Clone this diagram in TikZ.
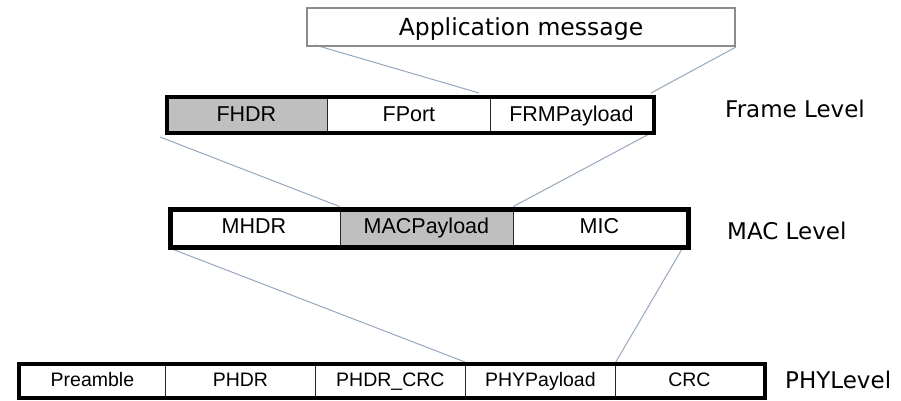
\documentclass[tikz,border=0pt]{standalone}
\usepackage{fontspec}
\setmainfont{Liberation Sans}
\newfontfamily\vfont{DejaVu Sans}
\usetikzlibrary{backgrounds,calc}
\definecolor{cellgray}{RGB}{191,191,191}
\definecolor{conn}{RGB}{150,168,190}
\definecolor{appborder}{RGB}{140,140,140}
\tikzset{
  cell/.style={draw=black!85, line width=0.8pt, inner sep=0pt, anchor=north west, text height=16pt, text depth=0pt},
  frcell/.style={cell, minimum height=36pt, font=\fontsize{21.5}{24}\selectfont},
  maccell/.style={cell, minimum height=38pt, font=\fontsize{21.5}{24}\selectfont},
  phycell/.style={cell, minimum height=34pt, minimum width=150pt, font=\fontsize{19.5}{22}\selectfont, text height=14pt},
  outerbox/.style={draw=black, inner sep=0pt, anchor=north west, fill=none},
  lvl/.style={anchor=west, inner sep=0pt, font=\vfont\fontsize{23}{26}\selectfont},
  conline/.style={draw=conn, line width=1pt},
}
\begin{document}
\begin{tikzpicture}[x=1pt,y=-1pt]
\useasboundingbox (0,0) rectangle (901,401);

% application message
\node[draw=appborder, line width=2pt, anchor=north west, minimum width=428pt, minimum height=38pt, inner sep=0pt,
      font=\vfont\fontsize{23.5}{26}\selectfont, text height=17pt, text depth=0pt] (app) at (306,7) {Application message};

% frame level
\node[frcell, fill=cellgray, minimum width=162pt] (fhdr) at (165,95) {FHDR};
\node[frcell, fill=white, minimum width=163pt] (fport) at (327,95) {FPort};
\node[frcell, fill=white, minimum width=162pt] (frm) at (490,95) {FRMPayload};
\node[outerbox, line width=4pt, minimum width=487pt, minimum height=36pt] (framebox) at (165,95) {};
\node[lvl] (flvl) at (725,108.5) {Frame Level};

% MAC level
\node[maccell, fill=white, minimum width=172pt] (mhdr) at (167.5,206.5) {MHDR};
\node[maccell, fill=cellgray, minimum width=173pt] (macpl) at (339.5,206.5) {MACPayload};
\node[maccell, fill=white, minimum width=173pt] (mic) at (512.5,206.5) {MIC};
\node[outerbox, line width=5pt, minimum width=518pt, minimum height=38pt] (macbox) at (167.5,206.5) {};
\node[lvl] (mlvl) at (727,230.5) {MAC Level};

% PHY level
\node[phycell, fill=white] (pre) at (17,362) {Preamble};
\node[phycell, fill=white] (phdr) at (165,362) {PHDR};
\node[phycell, fill=white] (phdrcrc) at (315,362) {PHDR\_CRC};
\node[phycell, fill=white] (phypl) at (465,362) {PHYPayload};
\node[phycell, fill=white, minimum width=148pt] (crc) at (615,362) {CRC};
\node[outerbox, line width=4pt, minimum width=746pt, minimum height=34pt] (phybox) at (17,362) {};
\node[lvl] (plvl) at (785,380) {PHYLevel};

% connector points
\coordinate (a1) at (315,45);
\coordinate (f1) at (479,93);
\coordinate (f2) at (651,93);
\coordinate (f3) at (160,137);
\coordinate (f4) at (651,133);
\coordinate (m1) at (172,249);
\coordinate (m2) at (682,249);

\begin{pgfonlayer}{background}
\fill[white] (0,0) rectangle (901,401);
\draw[conline] (a1) -- (f1);
\draw[conline] (app.south east) -- (f2);
\draw[conline] (f3) -- (macpl.north west);
\draw[conline] (f4) -- (macpl.north east);
\draw[conline] (m1) -- (phypl.north west);
\draw[conline] (m2) -- (phypl.north east);
\end{pgfonlayer}
\end{tikzpicture}
\end{document}
